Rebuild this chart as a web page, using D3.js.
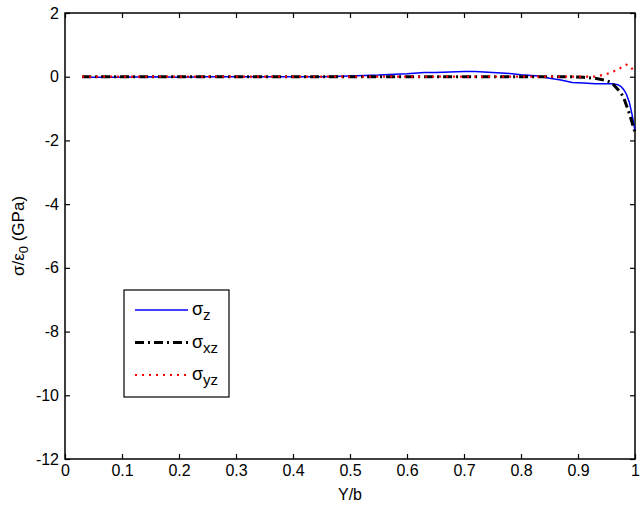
<!DOCTYPE html>
<html>
<head>
<meta charset="utf-8">
<script src="https://cdn.jsdelivr.net/npm/d3@7"></script>
<style>
  body { margin: 0; background: #fff; }
  text { font-family: "Liberation Sans", Arial, sans-serif; }
</style>
</head>
<body>
<div id="chart"></div>
<script>
// data
const yb = [0.03, 0.05, 0.1, 0.15, 0.2, 0.25, 0.3, 0.35, 0.4, 0.45, 0.5, 0.55, 0.58, 0.6, 0.63,
  0.65, 0.7, 0.72, 0.75, 0.78, 0.8, 0.83, 0.85, 0.87, 0.89, 0.91, 0.93, 0.95, 0.96, 0.97,
  0.975, 0.98, 0.985, 0.99, 0.995, 1.0];
const sigmaZ = [0, -0.02, -0.02, 0, -0.02, 0, 0, 0, 0, 0, 0.02, 0.05, 0.08, 0.09, 0.13,
  0.13, 0.16, 0.16, 0.13, 0.1, 0.06, 0.02, -0.05, -0.1, -0.18, -0.2, -0.22, -0.22, -0.22, -0.25,
  -0.3, -0.4, -0.55, -0.8, -1.2, -1.7];
const sigmaXZ = [0, 0, 0, 0, 0, 0, 0, 0, 0, 0, 0, 0, 0, 0, 0,
  0, 0, 0, 0, 0, 0, 0, 0, 0, 0, -0.02, -0.05, -0.12, -0.2, -0.4,
  -0.5, -0.65, -0.9, -1.15, -1.45, -1.75];
const sigmaYZ = [0, 0, 0, 0, 0, 0, 0, 0, 0, 0, 0, 0, 0, 0, 0,
  0, 0, 0, 0, 0, 0, 0, 0, 0, 0, 0, 0, 0.08, 0.15, 0.22,
  0.28, 0.33, 0.38, 0.35, 0.25, 0.15];
const xTicks = [0, 0.1, 0.2, 0.3, 0.4, 0.5, 0.6, 0.7, 0.8, 0.9, 1];
const yTicks = [2, 0, -2, -4, -6, -8, -10, -12];

const W = 640, H = 506;
const margin = { top: 13, right: 5, bottom: 47, left: 65 };
const w = W - margin.left - margin.right;
const h = H - margin.top - margin.bottom;

const svg = d3.select('#chart').append('svg')
  .attr('width', W)
  .attr('height', H);
const g = svg.append('g')
  .attr('transform', `translate(${ margin.left }, ${ margin.top })`);

// Scales
const xScale = d3.scaleLinear().domain([0, 1]).range([0, w]);
const yScale = d3.scaleLinear().domain([-12, 2]).range([h, 0]);

// axes, ticks pointing inward like matlab
const fmt = d => String(d);
const styleAxis = sel => {
  sel.select('.domain').remove();
  sel.selectAll('line').attr('stroke', '#000').attr('stroke-width', 1.2);
  sel.selectAll('text').attr('fill', '#000').style('font-size', '16px');
};

g.append('g')
  .attr('transform', `translate(0, ${ h })`)
  .call(d3.axisBottom(xScale).tickValues(xTicks).tickFormat(fmt)
    .tickSizeInner(-5).tickSizeOuter(0).tickPadding(6))
  .call(styleAxis);
g.append('g')
  .call(d3.axisTop(xScale).tickValues(xTicks).tickFormat('')
    .tickSizeInner(-5).tickSizeOuter(0))
  .call(styleAxis);
g.append('g')
  .call(d3.axisLeft(yScale).tickValues(yTicks).tickFormat(fmt)
    .tickSizeInner(-5).tickSizeOuter(0).tickPadding(6))
  .call(styleAxis);
g.append('g')
  .attr('transform', `translate(${ w }, 0)`)
  .call(d3.axisRight(yScale).tickValues(yTicks).tickFormat('')
    .tickSizeInner(-5).tickSizeOuter(0))
  .call(styleAxis);

// frame
g.append('rect')
  .attr('width', w)
  .attr('height', h)
  .attr('fill', 'none')
  .attr('stroke', '#000')
  .attr('stroke-width', 1.5);

// labels
g.append('text')
  .attr('x', w / 2)
  .attr('y', h + 41)
  .attr('text-anchor', 'middle')
  .style('font-size', '16px')
  .text('Y/b');

const ylab = svg.append('text')
  .attr('transform', `translate(24, ${ margin.top + h / 2 }) rotate(-90)`)
  .attr('text-anchor', 'middle')
  .style('font-size', '17px');
ylab.append('tspan').text('σ/ε');
ylab.append('tspan').attr('baseline-shift', '-4').style('font-size', '13px').text('0');
ylab.append('tspan').text(' (GPa)');

// lines
const series = [
  { name: 'z', values: sigmaZ, color: '#0000ff', width: 1.5, dash: null },
  { name: 'xz', values: sigmaXZ, color: '#000000', width: 3, dash: '9,4,2,4' },
  { name: 'yz', values: sigmaYZ, color: '#ff0000', width: 2.2, dash: '2,5' }
];

const line = d3.line()
  .x(d => xScale(d[0]))
  .y(d => yScale(d[1]));

const plot = g.append('g');
plot.selectAll('path.series')
  .data(series)
  .enter()
  .append('path')
  .attr('class', 'series')
  .attr('d', s => line(yb.map((x, i) => [x, s.values[i]])))
  .attr('fill', 'none')
  .attr('stroke', s => s.color)
  .attr('stroke-width', s => s.width)
  .attr('stroke-dasharray', s => s.dash);

// legend
const legend = svg.append('g').attr('transform', 'translate(124, 290)');
legend.append('rect')
  .attr('width', 105)
  .attr('height', 107)
  .attr('fill', '#fff')
  .attr('stroke', '#000')
  .attr('stroke-width', 1.2);

const item = legend.selectAll('g.item')
  .data(series)
  .enter()
  .append('g')
  .attr('class', 'item')
  .attr('transform', (d, i) => `translate(0, ${ 20 + i * 32.5 })`);

item.append('line')
  .attr('x1', 11)
  .attr('x2', 64)
  .attr('stroke', d => d.color)
  .attr('stroke-width', d => d.width)
  .attr('stroke-dasharray', d => d.dash);

const lt = item.append('text')
  .attr('x', 68)
  .attr('y', 5)
  .style('font-size', '18px');
lt.append('tspan').text('σ');
lt.append('tspan').attr('baseline-shift', '-5').style('font-size', '15px').text(d => d.name);
</script>
</body>
</html>
